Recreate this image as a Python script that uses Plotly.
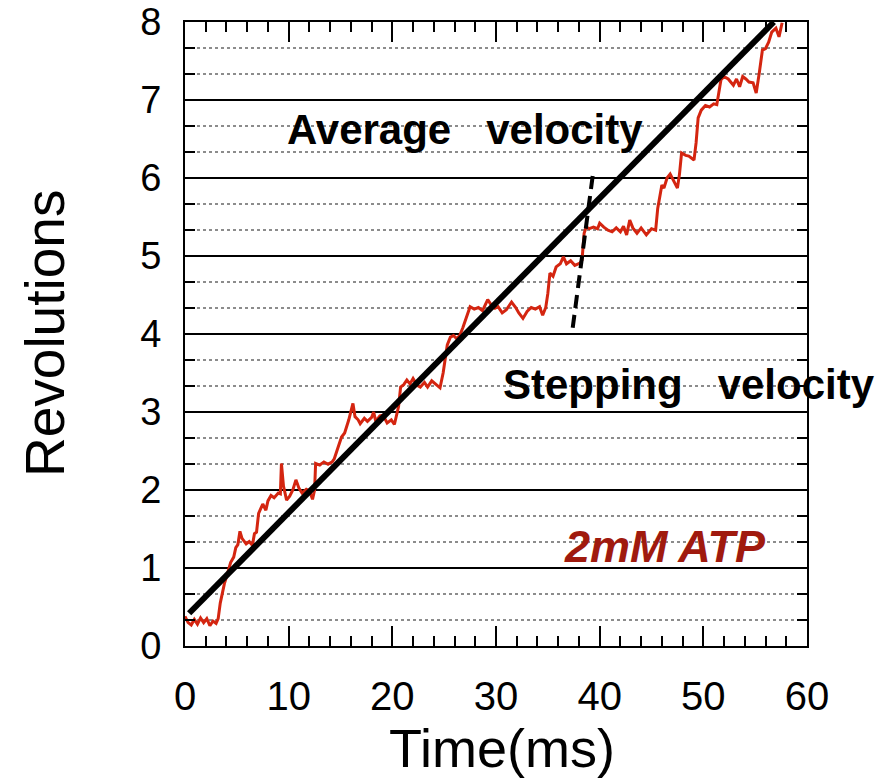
import plotly.graph_objects as go

# Trace: time (ms) and revolutions
time_ms = [0.0,0.3,0.6,0.9,1.2,1.5,1.8,2.1,2.4,2.7,3.0,3.2,3.4,3.6,3.8,4.1,4.4,4.7,4.9,5.1,
           5.3,5.5,5.9,6.2,6.5,6.7,6.9,7.1,7.5,7.8,8.0,8.3,8.6,9.0,9.2,9.3,9.5,9.8,10.1,10.4,
           10.7,11.0,11.3,11.7,12.0,12.3,12.5,12.6,13.0,13.4,13.8,14.2,14.4,14.8,15.1,15.4,15.8,16.2,16.4,16.7,
           16.9,17.3,17.6,18.0,18.2,18.4,18.8,19.1,19.5,19.9,20.2,20.6,20.8,21.1,21.4,21.7,22.0,22.4,22.7,23.1,
           23.4,23.8,24.2,24.6,24.9,25.1,25.3,25.6,25.9,26.2,26.5,26.8,27.2,27.5,27.9,28.3,28.7,29.2,29.6,29.9,
           30.2,30.6,31.0,31.5,31.9,32.2,32.6,33.0,33.4,33.8,34.2,34.5,34.8,35.0,35.2,35.5,35.8,36.2,36.5,36.8,
           37.2,37.6,38.1,38.3,38.5,38.7,39.0,39.4,39.8,40.0,40.4,40.8,41.2,41.6,42.0,42.3,42.6,42.9,43.2,43.6,
           44.0,44.5,45.0,45.4,45.6,46.0,46.2,46.5,46.8,47.2,47.5,47.7,47.9,48.3,48.6,49.1,49.3,49.5,49.8,50.2,
           50.6,51.0,51.3,51.5,51.7,52.0,52.4,52.9,53.2,53.5,53.8,54.1,54.4,54.8,55.1,55.4,55.7,56.0,56.3,56.6,
           57.0,57.3,57.6]
revolutions = [0.38,0.30,0.27,0.34,0.28,0.36,0.30,0.35,0.26,0.32,0.29,0.35,0.55,0.70,0.80,0.93,1.07,1.14,1.26,1.30,
               1.47,1.38,1.31,1.34,1.29,1.44,1.46,1.70,1.82,1.74,1.86,1.93,1.90,1.96,1.95,2.34,2.05,1.87,1.92,2.00,
               2.13,2.02,1.96,2.01,1.99,1.88,2.00,2.34,2.32,2.36,2.33,2.36,2.40,2.56,2.68,2.73,2.90,3.11,2.94,2.90,
               2.85,2.92,2.88,2.93,3.00,2.88,2.95,2.96,2.86,2.90,2.84,3.07,3.32,3.35,3.41,3.36,3.43,3.34,3.32,3.38,
               3.32,3.40,3.35,3.31,3.50,3.67,3.86,3.96,3.98,3.94,3.98,4.08,4.22,4.35,4.32,4.34,4.30,4.44,4.36,4.33,
               4.35,4.27,4.31,4.41,4.34,4.27,4.20,4.29,4.34,4.32,4.35,4.24,4.34,4.52,4.78,4.74,4.86,4.90,4.99,4.90,
               4.94,4.88,4.91,4.95,5.29,5.37,5.35,5.37,5.35,5.42,5.37,5.33,5.31,5.36,5.31,5.38,5.27,5.46,5.36,5.29,
               5.36,5.27,5.35,5.33,5.61,5.91,5.87,6.00,6.05,5.95,5.87,6.05,6.32,6.29,6.28,6.23,6.45,6.77,6.87,6.93,
               6.91,6.95,6.94,7.10,7.26,7.30,7.27,7.19,7.27,7.17,7.30,7.27,7.23,7.22,7.09,7.35,7.64,7.66,7.74,7.87,
               7.92,7.81,7.99]

# Average velocity fit line (endpoints)
avg_t = [0.4, 56.8]
avg_r = [0.42, 8.0]

# Stepping velocity dashed line (endpoints)
step_t = [37.4, 39.4]
step_r = [4.08, 6.1]

x_ticks = [0, 10, 20, 30, 40, 50, 60]
y_ticks = [0, 1, 2, 3, 4, 5, 6, 7, 8]

FONT = "Liberation Sans, Arial, Helvetica, sans-serif"

fig = go.Figure()
fig.add_trace(go.Scatter(x=time_ms, y=revolutions, mode="lines",
                         line=dict(color="#d42510", width=3), showlegend=False))
fig.add_trace(go.Scatter(x=avg_t, y=avg_r, mode="lines",
                         line=dict(color="black", width=6), showlegend=False))
fig.add_trace(go.Scatter(x=step_t, y=step_r, mode="lines",
                         line=dict(color="black", width=4, dash="13px,7px"), showlegend=False))

fig.update_layout(
    width=890, height=782,
    margin=dict(l=185, r=83, t=22, b=136),
    paper_bgcolor="white", plot_bgcolor="white",
    font=dict(family=FONT, color="black"),
    xaxis=dict(
        range=[0, 60], tickvals=x_ticks, ticks="inside", ticklen=20, tickwidth=2,
        tickcolor="black", showline=True, linecolor="black", linewidth=2, mirror="allticks",
        showgrid=False, zeroline=False, tickfont=dict(size=40), ticklabelstandoff=14,
        automargin=False,
        minor=dict(dtick=2, ticks="inside", ticklen=10, tickwidth=2, tickcolor="black", showgrid=False),
    ),
    yaxis=dict(
        range=[0, 8], tickvals=y_ticks, ticks="inside", ticklen=10, tickwidth=2,
        tickcolor="black", showline=True, linecolor="black", linewidth=2, mirror="allticks",
        showgrid=True, gridcolor="black", gridwidth=2, zeroline=False,
        tickfont=dict(size=38), ticklabelstandoff=14, automargin=False,
        minor=dict(dtick=1/3, ticks="inside", ticklen=10, tickwidth=2, tickcolor="black",
                   showgrid=True, gridcolor="#8c8c8c", gridwidth=2, griddash="dot"),
    ),
    annotations=[
        dict(x=(45 - 185) / 622, y=0.5, xref="paper", yref="paper", text="Revolutions",
             textangle=-90, showarrow=False, xanchor="center", yanchor="middle",
             font=dict(size=55, family=FONT, color="black")),
        dict(x=(502 - 185) / 622, y=(646 - 748) / 624, xref="paper", yref="paper", text="Time(ms)",
             showarrow=False, xanchor="center", yanchor="middle",
             font=dict(size=54, family=FONT, color="black")),
        dict(x=27.0, y=6.62, xref="x", yref="y", text="<b>Average   velocity</b>", showarrow=False,
             font=dict(size=42, family=FONT, color="black")),
        dict(x=48.6, y=3.35, xref="x", yref="y", text="<b>Stepping   velocity</b>", showarrow=False,
             font=dict(size=42, family=FONT, color="black")),
        dict(x=46.3, y=1.28, xref="x", yref="y", text="<b><i>2mM ATP</i></b>", showarrow=False,
             font=dict(size=45, family=FONT, color="#a01a0e")),
    ],
)

fig.write_html("out.html")
